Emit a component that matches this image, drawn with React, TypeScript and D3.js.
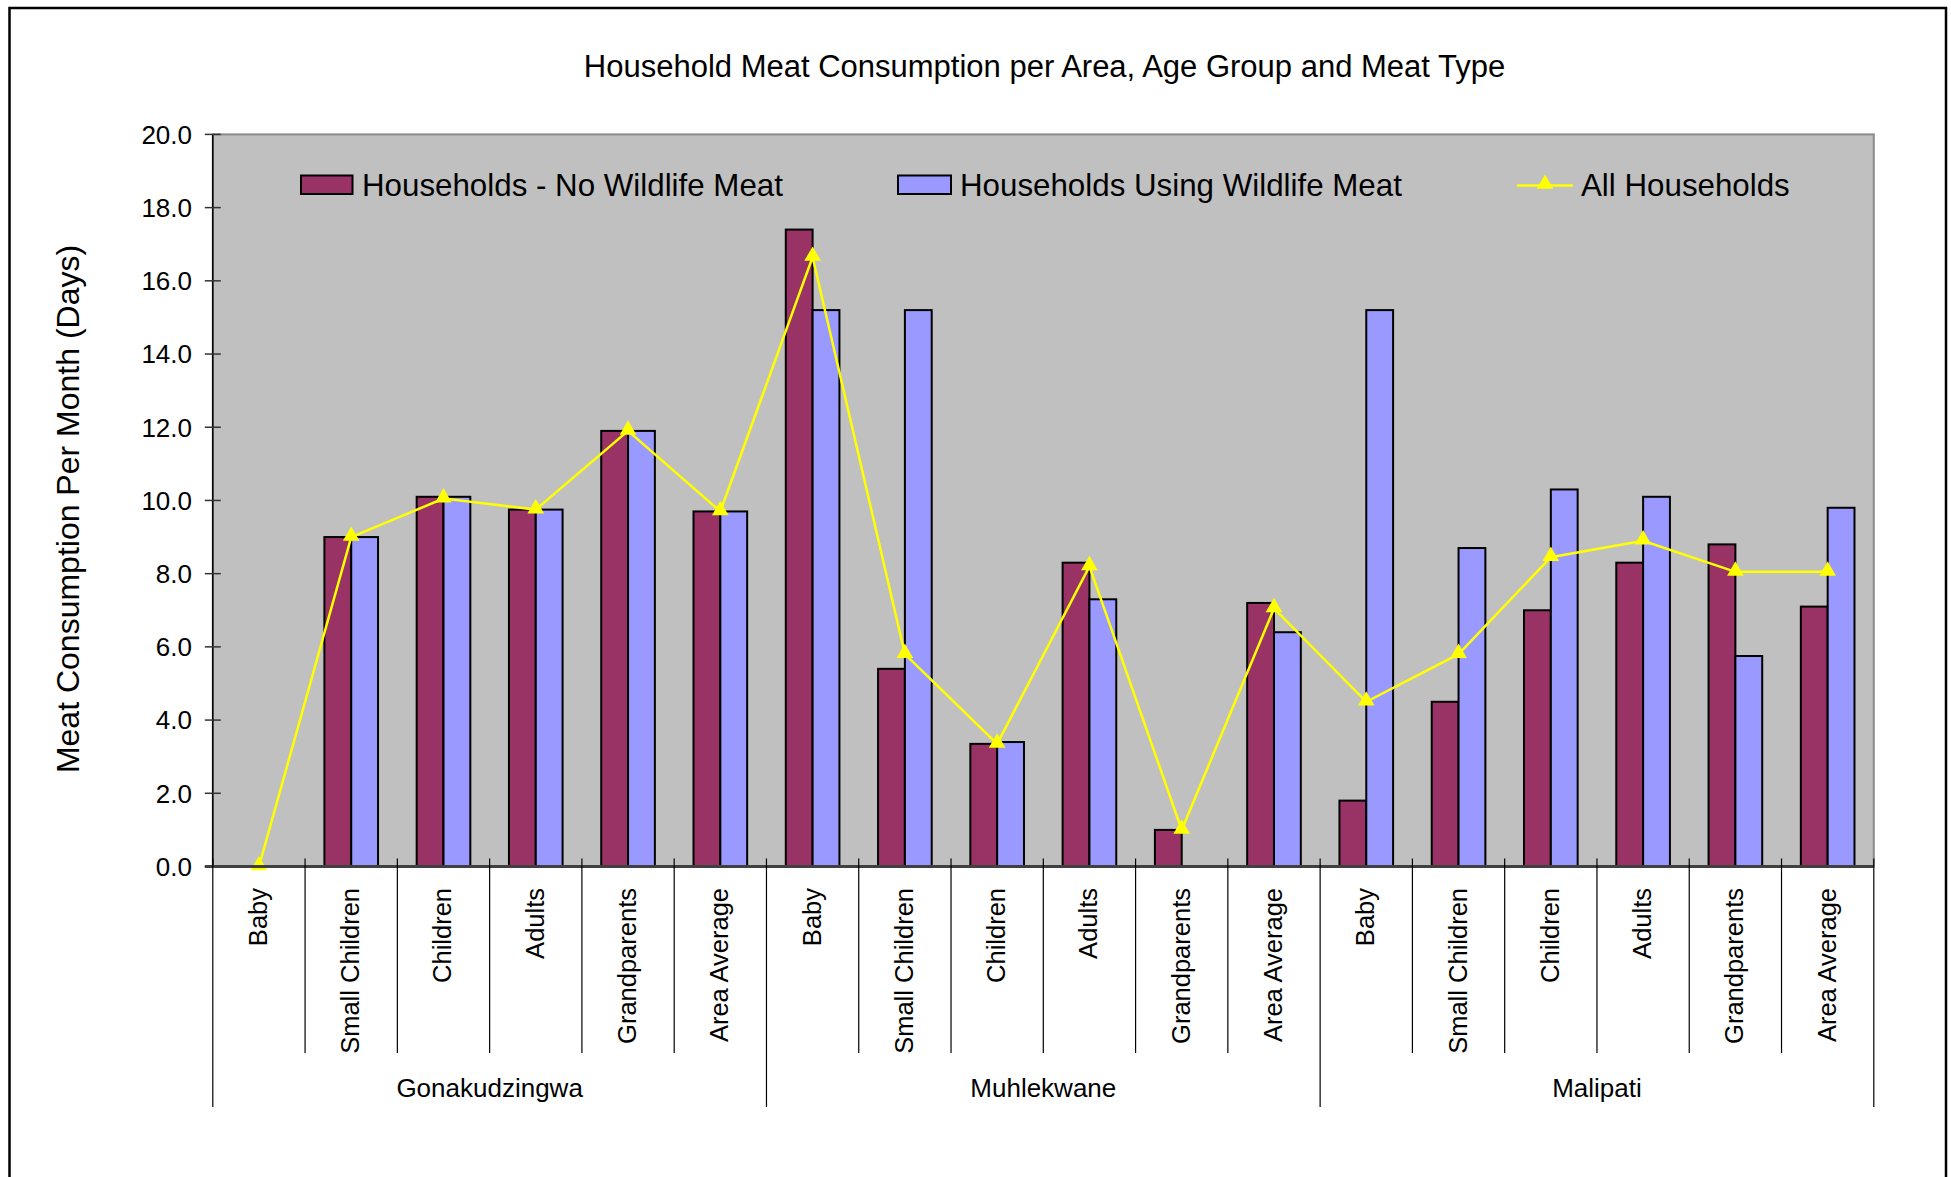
import React from 'react';
import * as d3 from 'd3';

// Areas and the age groups recorded within each area
const areas = ['Gonakudzingwa', 'Muhlekwane', 'Malipati'];
const ageGroups = ['Baby', 'Small Children', 'Children', 'Adults', 'Grandparents', 'Area Average'];

// Days per month with meat, one value per area × age group (area-major order)
const noWildlifeMeat = [
  0, 9.0, 10.1, 9.75, 11.9, 9.7,
  17.4, 5.4, 3.35, 8.3, 1.0, 7.2,
  1.8, 4.5, 7.0, 8.3, 8.8, 7.1,
];
const usingWildlifeMeat = [
  0, 9.0, 10.1, 9.75, 11.9, 9.7,
  15.2, 15.2, 3.4, 7.3, 0, 6.4,
  15.2, 8.7, 10.3, 10.1, 5.75, 9.8,
];
const allHouseholds = [
  0, 9.0, 10.05, 9.75, 11.9, 9.7,
  16.65, 5.8, 3.35, 8.2, 1.0, 7.05,
  4.5, 5.8, 8.45, 8.9, 8.05, 8.05,
];
const yTicks = [0, 2, 4, 6, 8, 10, 12, 14, 16, 18, 20];

const seriesNames = ['Households - No Wildlife Meat', 'Households Using Wildlife Meat', 'All Households'];
const MAROON = '#993366';
const PERIWINKLE = '#9999FF';
const YELLOW = '#FFFF00';
const FONT = '"Liberation Sans", Arial, Helvetica, sans-serif';

const W = 1951;
const H = 1177;
const plot = { left: 212.8, right: 1873.8, top: 134.4, bottom: 866.5 };

export default function App() {
  const keys = areas.flatMap((a) => ageGroups.map((g) => `${a}|${g}`));
  const x = d3.scaleBand<string>().domain(keys).range([plot.left, plot.right]).padding(0);
  const x1 = d3
    .scaleBand<string>()
    .domain(['no', 'yes'])
    .range([0, x.bandwidth()])
    .paddingInner(0)
    .paddingOuter(0.72);
  const y = d3.scaleLinear().domain([0, 20]).range([plot.bottom, plot.top]);
  const cx = (k: string) => (x(k) as number) + x.bandwidth() / 2;

  const lineGen = d3
    .line<number>()
    .x((_, i) => cx(keys[i]))
    .y((d) => y(d));

  const tri = d3.symbol().type(d3.symbolTriangle).size(120)() as string;

  const groupWidth = x.bandwidth() * ageGroups.length;
  const catTickBottom = 1053;
  const groupTickBottom = 1107;
  const legendY = 185;

  return (
    <svg
      width={W}
      height={H}
      style={{ position: 'absolute', left: 0, top: 0, background: '#fff' }}
      fontFamily={FONT}
    >
      {/* outer frame */}
      <rect x={9.5} y={8} width={1936.5} height={H + 20} fill="#fff" stroke="#000" strokeWidth={2.5} />

      <text x={1044.5} y={77} textAnchor="middle" fontSize={31} fill="#000">
        Household Meat Consumption per Area, Age Group and Meat Type
      </text>

      {/* plot area */}
      <rect
        x={plot.left}
        y={plot.top}
        width={plot.right - plot.left}
        height={plot.bottom - plot.top}
        fill="#C0C0C0"
        stroke="#8a8a8a"
        strokeWidth={2}
      />

      {/* bars */}
      {keys.map((k, i) => (
        <g key={k}>
          {noWildlifeMeat[i] > 0 && (
            <rect
              x={(x(k) as number) + (x1('no') as number)}
              y={y(noWildlifeMeat[i])}
              width={x1.bandwidth()}
              height={y(0) - y(noWildlifeMeat[i])}
              fill={MAROON}
              stroke="#000"
              strokeWidth={2}
            />
          )}
          {usingWildlifeMeat[i] > 0 && (
            <rect
              x={(x(k) as number) + (x1('yes') as number)}
              y={y(usingWildlifeMeat[i])}
              width={x1.bandwidth()}
              height={y(0) - y(usingWildlifeMeat[i])}
              fill={PERIWINKLE}
              stroke="#000"
              strokeWidth={2}
            />
          )}
        </g>
      ))}

      {/* all households line */}
      <path d={lineGen(allHouseholds) as string} fill="none" stroke={YELLOW} strokeWidth={2.5} />
      {allHouseholds.map((v, i) => (
        <path key={i} d={tri} transform={`translate(${cx(keys[i])},${y(v) - 1})`} fill={YELLOW} />
      ))}

      {/* y axis */}
      <line x1={plot.left} x2={plot.left} y1={plot.top} y2={plot.bottom} stroke="#000" strokeWidth={1.5} />
      {yTicks.map((t) => (
        <g key={t}>
          <line x1={plot.left - 8} x2={plot.left + 8} y1={y(t)} y2={y(t)} stroke="#333" strokeWidth={1.5} />
          <text x={192} y={y(t)} dy="0.36em" textAnchor="end" fontSize={26} fill="#000">
            {t.toFixed(1)}
          </text>
        </g>
      ))}
      <text
        transform={`translate(79,509) rotate(-90)`}
        textAnchor="middle"
        fontSize={32}
        fill="#000"
      >
        Meat Consumption Per Month (Days)
      </text>

      {/* category axis */}
      <line x1={plot.left - 8} x2={plot.right} y1={plot.bottom} y2={plot.bottom} stroke="#404040" strokeWidth={3} />
      {keys.map((k, i) => {
        const xl = x(k) as number;
        const isGroupEdge = i % ageGroups.length === 0;
        return (
          <line
            key={'t' + k}
            x1={xl}
            x2={xl}
            y1={plot.bottom - 8}
            y2={isGroupEdge ? groupTickBottom : catTickBottom}
            stroke="#000"
            strokeWidth={1.2}
          />
        );
      })}
      <line
        x1={plot.right}
        x2={plot.right}
        y1={plot.bottom - 8}
        y2={groupTickBottom}
        stroke="#000"
        strokeWidth={1.2}
      />
      {keys.map((k) => (
        <text
          key={'l' + k}
          transform={`translate(${cx(k) + 8},888) rotate(-90)`}
          textAnchor="end"
          fontSize={25.5}
          fill="#000"
        >
          {k.split('|')[1]}
        </text>
      ))}
      {areas.map((a, j) => (
        <text
          key={a}
          x={plot.left + groupWidth * (j + 0.5)}
          y={1097}
          textAnchor="middle"
          fontSize={26}
          fill="#000"
        >
          {a}
        </text>
      ))}

      {/* legend */}
      <rect x={301} y={legendY - 9.5} width={51.5} height={18.5} fill={MAROON} stroke="#000" strokeWidth={2} />
      <text x={362} y={legendY} dy="0.36em" fontSize={31.3} fill="#000">
        {seriesNames[0]}
      </text>
      <rect x={898} y={legendY - 9.5} width={53} height={18.5} fill={PERIWINKLE} stroke="#000" strokeWidth={2} />
      <text x={960} y={legendY} dy="0.36em" fontSize={31.3} fill="#000">
        {seriesNames[1]}
      </text>
      <line x1={1517} x2={1573} y1={legendY + 0.5} y2={legendY + 0.5} stroke={YELLOW} strokeWidth={2.5} />
      <path d={tri} transform={`translate(1545,${legendY - 1})`} fill={YELLOW} />
      <text x={1581} y={legendY} dy="0.36em" fontSize={31.3} fill="#000">
        {seriesNames[2]}
      </text>
    </svg>
  );
}
